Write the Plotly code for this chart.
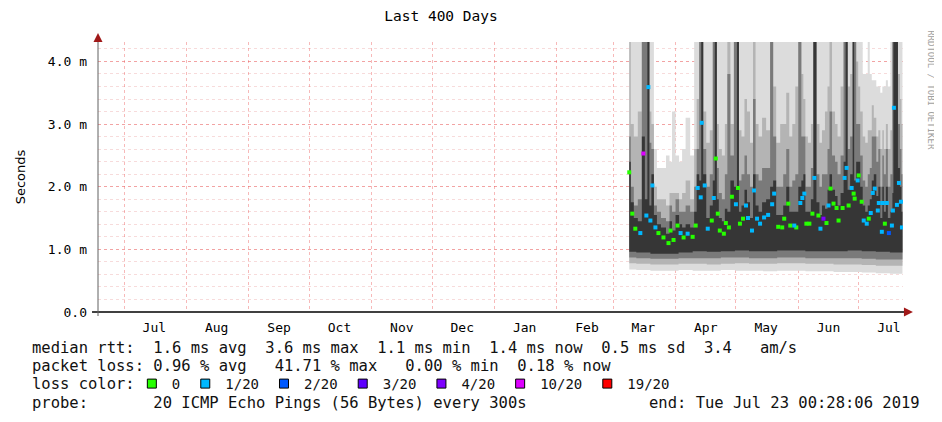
import plotly.graph_objects as go

# smokeping style graph, last 400 days
start = "2018-06-18 00:28:06"
end = "2019-07-23 00:28:06"

month_ticks = ["2018-07-16", "2018-08-16", "2018-09-16", "2018-10-16", "2018-11-16",
               "2018-12-16", "2019-01-16", "2019-02-16", "2019-03-16", "2019-04-16",
               "2019-05-16", "2019-06-16", "2019-07-16"]
month_labels = ["Jul", "Aug", "Sep", "Oct", "Nov", "Dec", "Jan", "Feb", "Mar", "Apr",
                "May", "Jun", "Jul"]

y_ticks = [0, 1, 2, 3, 4]
y_labels = ["0.0", "1.0 m", "2.0 m", "3.0 m", "4.0 m"]

sample_dates = [
    "2019-03-09 00:00", "2019-03-10 12:00", "2019-03-12 00:00", "2019-03-14 12:00", "2019-03-16 00:00",
    "2019-03-17 12:00", "2019-03-18 12:00", "2019-03-19 12:00", "2019-03-20 12:00", "2019-03-22 00:00",
    "2019-03-23 12:00", "2019-03-26 00:00", "2019-03-28 12:00", "2019-03-29 12:00", "2019-03-31 00:00",
    "2019-04-02 00:00", "2019-04-03 12:00", "2019-04-05 00:00", "2019-04-07 00:00", "2019-04-09 12:00",
    "2019-04-11 00:00", "2019-04-12 00:00", "2019-04-13 12:00", "2019-04-14 00:00", "2019-04-15 12:00",
    "2019-04-17 00:00", "2019-04-19 00:00", "2019-04-20 00:00", "2019-04-21 00:00", "2019-04-22 00:00",
    "2019-04-23 00:00", "2019-04-25 00:00", "2019-04-26 00:00", "2019-04-27 12:00", "2019-04-29 00:00",
    "2019-05-01 00:00", "2019-05-02 00:00", "2019-05-03 00:00", "2019-05-04 12:00", "2019-05-06 00:00",
    "2019-05-07 00:00", "2019-05-09 00:00", "2019-05-10 00:00", "2019-05-11 12:00", "2019-05-13 00:00",
    "2019-05-15 00:00", "2019-05-17 00:00", "2019-05-19 00:00", "2019-05-20 00:00", "2019-05-22 00:00",
    "2019-05-24 00:00", "2019-05-25 00:00", "2019-05-27 00:00", "2019-05-28 00:00", "2019-05-30 00:00",
    "2019-05-31 00:00", "2019-06-02 00:00", "2019-06-03 00:00", "2019-06-04 00:00", "2019-06-05 00:00",
    "2019-06-06 12:00", "2019-06-08 00:00", "2019-06-09 00:00", "2019-06-11 00:00", "2019-06-12 00:00",
    "2019-06-13 12:00", "2019-06-15 00:00", "2019-06-16 00:00", "2019-06-17 00:00", "2019-06-18 12:00",
    "2019-06-20 00:00", "2019-06-21 00:00", "2019-06-23 00:00", "2019-06-24 00:00", "2019-06-25 00:00",
    "2019-06-26 00:00", "2019-06-27 12:00", "2019-06-28 12:00", "2019-06-29 00:00", "2019-06-30 12:00",
    "2019-07-01 00:00", "2019-07-02 12:00", "2019-07-03 12:00", "2019-07-05 00:00", "2019-07-06 00:00",
    "2019-07-07 00:00", "2019-07-08 00:00", "2019-07-09 00:00", "2019-07-10 12:00", "2019-07-11 00:00",
    "2019-07-12 12:00", "2019-07-13 00:00", "2019-07-14 00:00", "2019-07-15 00:00", "2019-07-16 00:00",
    "2019-07-17 12:00", "2019-07-18 00:00", "2019-07-18 12:00", "2019-07-20 00:00", "2019-07-21 00:00",
    "2019-07-22 00:00", "2019-07-22 12:00",
]

# median rtt (ms)
median_rtt = [
    2.23, 1.57, 1.33, 1.26, 2.53, 1.54, 3.59, 1.46, 2.02, 1.35,
    1.26, 1.19, 1.10, 1.30, 1.15, 1.38, 1.26, 1.19, 1.25, 1.20,
    1.38, 1.98, 1.83, 3.02, 2.02, 1.33, 1.46, 1.82, 2.45, 1.57,
    1.30, 1.25, 1.42, 1.35, 1.84, 1.72, 1.98, 1.41, 1.49, 1.70,
    1.50, 1.30, 1.94, 1.49, 1.41, 1.51, 1.55, 1.72, 1.89, 1.36,
    1.35, 1.49, 1.73, 1.38, 1.38, 1.35, 1.74, 1.82, 1.89, 1.41,
    1.41, 1.57, 2.14, 1.54, 1.33, 1.49, 1.42, 1.70, 1.97, 1.73,
    1.66, 1.46, 1.66, 2.14, 2.30, 1.70, 1.98, 1.89, 1.81, 2.10,
    2.18, 1.76, 1.46, 1.41, 1.49, 1.58, 1.90, 1.97, 1.62, 1.74,
    1.28, 1.74, 1.41, 1.74, 1.26, 1.38, 1.62, 3.26, 1.71, 2.06,
    1.76, 1.35,
]

# lost pings out of 20
lost_pings = [
    0, 0, 0, 1, 10, 1, 1, 1, 1, 1,
    0, 0, 0, 0, 0, 0, 1, 0, 1, 0,
    0, 1, 1, 1, 1, 1, 0, 1, 0, 0,
    0, 0, 0, 0, 0, 1, 0, 0, 0, 1,
    1, 1, 1, 1, 1, 1, 1, 1, 1, 0,
    0, 0, 0, 0, 1, 0, 1, 1, 1, 0,
    0, 0, 1, 0, 1, 4, 0, 1, 0, 0,
    0, 0, 0, 1, 1, 0, 1, 0, 0, 1,
    0, 0, 1, 1, 0, 1, 1, 1, 1, 1,
    1, 1, 0, 1, 2, 1, 1, 1, 1, 1,
    1, 1,
]

# smoke: upper edges of the grey bands (ms), 4.4 = off the top
smoke_core_top = [
    2.4, 1.75, 1.5, 1.45, 2.8, 1.8, 4.4, 1.7, 2.2, 1.55,
    1.4, 1.35, 1.25, 1.45, 1.3, 1.55, 1.4, 1.35, 1.4, 1.35,
    1.6, 2.2, 2.1, 4.4, 2.2, 1.5, 1.7, 2.1, 4.4, 1.8,
    1.5, 1.45, 1.65, 1.6, 2.1, 2.0, 4.4, 1.6, 1.7, 1.95,
    1.75, 1.5, 2.2, 1.7, 1.6, 1.75, 1.8, 2.0, 2.1, 1.55,
    1.55, 1.7, 2.0, 1.6, 1.6, 1.6, 2.0, 2.1, 2.2, 1.6,
    1.6, 1.8, 4.4, 1.75, 1.55, 1.7, 1.65, 1.95, 2.2, 1.95,
    1.85, 1.7, 1.9, 2.4, 4.4, 1.95, 2.2, 4.4, 2.1, 2.4,
    2.4, 2.0, 1.7, 1.6, 1.7, 1.8, 2.1, 2.2, 1.85, 2.0,
    1.5, 2.0, 1.6, 2.0, 1.5, 1.6, 1.9, 4.4, 4.4, 2.3,
    2.0, 1.6,
]
smoke_dark_top = [
    2.8, 2.0, 1.7, 1.8, 4.4, 4.4, 4.4, 2.7, 2.6, 1.7,
    1.6, 1.5, 1.45, 1.7, 1.6, 1.8, 1.6, 1.6, 1.7, 1.6,
    2.0, 2.6, 4.4, 4.4, 2.6, 2.0, 2.2, 4.4, 4.4, 2.3,
    1.9, 1.8, 2.2, 3.8, 2.5, 4.4, 4.4, 2.1, 2.2, 2.5,
    2.2, 2.0, 3.4, 2.2, 2.1, 2.3, 2.3, 4.4, 2.8, 2.0,
    2.0, 2.2, 2.6, 2.0, 2.1, 2.2, 4.4, 2.8, 2.8, 2.0,
    2.0, 2.3, 4.4, 2.2, 2.0, 2.2, 2.2, 2.6, 3.2, 2.5,
    2.4, 2.2, 2.5, 4.4, 4.4, 2.6, 2.8, 4.4, 4.4, 3.0,
    3.0, 2.5, 2.1, 2.0, 2.2, 2.3, 2.8, 2.8, 2.4, 2.6,
    2.0, 2.5, 2.2, 2.6, 2.0, 2.2, 4.4, 4.4, 4.4, 3.0,
    2.6, 2.2,
]
smoke_mid_top = [
    4.4, 3.0, 2.8, 3.2, 4.4, 4.4, 4.4, 3.2, 3.0, 2.0,
    1.8, 1.8, 1.7, 1.9, 1.9, 1.9, 1.8, 1.9, 2.1, 1.8,
    2.6, 3.4, 4.4, 4.4, 3.2, 2.7, 2.9, 4.4, 4.4, 3.0,
    2.6, 2.5, 3.0, 4.4, 3.0, 4.4, 4.4, 2.9, 2.8, 3.4,
    3.2, 2.7, 4.4, 3.0, 2.8, 3.1, 2.9, 4.4, 3.6, 2.7,
    3.0, 3.0, 3.5, 2.8, 3.0, 3.6, 4.4, 3.8, 3.4, 2.8,
    2.7, 3.0, 4.4, 3.0, 2.7, 2.9, 3.2, 3.6, 4.4, 3.2,
    3.0, 2.8, 3.6, 4.4, 4.4, 3.6, 3.8, 4.4, 4.4, 4.0,
    3.6, 3.2, 2.8, 2.7, 2.9, 2.9, 3.3, 3.1, 2.8, 2.9,
    2.6, 2.9, 2.6, 3.0, 2.6, 2.9, 4.4, 4.4, 4.4, 3.8,
    3.4, 3.0,
]
smoke_max = [
    4.4, 4.4, 4.4, 4.4, 4.4, 4.4, 4.4, 4.4, 4.4, 2.6,
    2.3, 2.3, 2.5, 2.4, 3.2, 2.5, 2.4, 2.6, 3.1, 2.5,
    4.4, 4.4, 4.4, 4.4, 4.4, 4.4, 4.4, 4.4, 4.4, 4.4,
    4.4, 4.4, 4.4, 4.4, 4.4, 4.4, 4.4, 4.4, 4.4, 4.4,
    4.4, 4.4, 4.4, 4.4, 4.4, 4.4, 4.4, 4.4, 4.4, 4.4,
    4.4, 4.4, 4.4, 4.4, 4.4, 4.4, 4.4, 4.4, 4.4, 4.4,
    4.4, 4.4, 4.4, 4.4, 4.4, 4.4, 4.4, 4.4, 4.4, 4.4,
    4.4, 4.4, 4.4, 4.4, 4.4, 4.4, 4.4, 4.4, 4.4, 4.4,
    4.4, 4.4, 3.8, 3.8, 4.4, 3.8, 3.7, 3.7, 3.6, 3.6,
    3.5, 3.6, 3.6, 3.7, 3.6, 4.4, 4.4, 4.4, 4.4, 4.4,
    4.4, 4.4,
]

# smoke: lower edges, read weekly
bottom_dates = ["2019-03-09", "2019-03-16", "2019-03-23", "2019-03-30", "2019-04-06",
                "2019-04-13", "2019-04-20", "2019-04-27", "2019-05-04", "2019-05-11",
                "2019-05-18", "2019-05-25", "2019-06-01", "2019-06-08", "2019-06-15",
                "2019-06-22", "2019-06-29", "2019-07-06", "2019-07-13", "2019-07-20",
                "2019-07-23"]
smoke_min = [0.68, 0.67, 0.66, 0.66, 0.67, 0.66, 0.66, 0.67, 0.66, 0.66,
             0.65, 0.66, 0.66, 0.65, 0.65, 0.64, 0.64, 0.63, 0.62, 0.61, 0.61]
smoke_mid_bottom = [0.78, 0.77, 0.76, 0.76, 0.77, 0.77, 0.76, 0.77, 0.78, 0.77,
                    0.77, 0.78, 0.78, 0.77, 0.77, 0.76, 0.76, 0.75, 0.74, 0.74, 0.74]
smoke_dark_bottom = [0.87, 0.86, 0.85, 0.85, 0.86, 0.86, 0.86, 0.87, 0.87, 0.86,
                     0.86, 0.87, 0.87, 0.86, 0.86, 0.86, 0.86, 0.85, 0.84, 0.84, 0.84]
smoke_core_bottom = [0.96, 0.95, 0.93, 0.93, 0.95, 0.97, 0.96, 0.97, 0.98, 0.97,
                     0.97, 0.98, 0.98, 0.97, 0.97, 0.97, 0.98, 0.97, 0.96, 0.95, 0.95]

loss_levels = [0, 1, 2, 3, 4, 10, 19]
loss_names = ["0", "1/20", "2/20", "3/20", "4/20", "10/20", "19/20"]
loss_colors = ["#26ff00", "#00b8ff", "#0059ff", "#5e00ff", "#7e00ff", "#dd00ff", "#ff0000"]

# the page body adds an 8px margin, so the figure is 8px smaller than the window
PAD = 8
W, H = 942 - PAD, 422 - PAD
L, R, T, B = 94, 903, 42, 312   # plot area in window pixels
MONO = "DejaVu Sans Mono"


def px(x):
    return (x - L) / (R - L)


def py(y):
    return (B - y) / (B - T)


fig = go.Figure()

# smoke bands, outer to inner
bands = [
    (smoke_max, smoke_min, "#dcdcdc"),
    (smoke_mid_top, smoke_mid_bottom, "#b4b4b4"),
    (smoke_dark_top, smoke_dark_bottom, "#7a7a7a"),
    (smoke_core_top, smoke_core_bottom, "#363636"),
]
for top, bottom, col in bands:
    fig.add_trace(go.Scatter(
        x=sample_dates + bottom_dates[::-1],
        y=top + bottom[::-1],
        fill="toself", fillcolor=col,
        line=dict(width=0, shape="hvh"),
        mode="lines", hoverinfo="skip", showlegend=False,
    ))

# median rtt, coloured by loss
for lvl, name, col in zip(loss_levels, loss_names, loss_colors):
    xs = [d for d, l in zip(sample_dates, lost_pings) if l == lvl]
    ys = [v for v, l in zip(median_rtt, lost_pings) if l == lvl]
    fig.add_trace(go.Scatter(
        x=xs, y=ys, mode="markers", name=name,
        marker=dict(symbol="square", size=4, color=col, line=dict(width=0)),
        showlegend=False,
    ))
    # legend swatch
    fig.add_trace(go.Scatter(
        x=[None], y=[None], mode="markers", name=name,
        marker=dict(symbol="square", size=9, color=col, line=dict(width=1, color="#000000")),
    ))

major_grid = "rgba(235,70,70,0.38)"
minor_grid = "rgba(225,110,110,0.25)"

fig.update_xaxes(
    type="date", range=[start, end],
    tickvals=month_ticks, ticktext=month_labels, ticks="",
    tickfont=dict(family=MONO, size=13, color="#000000"),
    ticklabelstandoff=6,
    showgrid=False, zeroline=False, showline=False,
    minor=dict(dtick="M1", tick0="2018-07-01", showgrid=True,
               gridcolor=major_grid, griddash="dot", gridwidth=1, ticks=""),
)
fig.update_yaxes(
    range=[0, 4.31],
    tickvals=y_ticks, ticktext=y_labels, ticks="",
    tickfont=dict(family=MONO, size=13, color="#000000"),
    ticklabelstandoff=10,
    showgrid=True, gridcolor=major_grid, griddash="dot", gridwidth=1,
    zeroline=False, showline=False,
    minor=dict(dtick=0.2, showgrid=True, gridcolor=minor_grid, griddash="dot", gridwidth=1),
    title=dict(text="Seconds", font=dict(family="DejaVu Sans", size=13, color="#000000"),
               standoff=19),
)

# axis lines and arrows
fig.add_shape(type="line", xref="paper", yref="paper", x0=px(88), x1=px(907), y0=0, y1=0,
              line=dict(color="#404040", width=2))
fig.add_shape(type="line", xref="paper", yref="paper", x0=0, x1=0, y0=py(316), y1=py(38),
              line=dict(color="#606060", width=1))
fig.add_annotation(xref="paper", yref="paper", x=px(913), y=0, ax=-8, ay=0, text="",
                   showarrow=True, arrowhead=2, arrowsize=1.2, arrowwidth=1.5, arrowcolor="#a01818")
fig.add_annotation(xref="paper", yref="paper", x=0, y=py(33), ax=0, ay=8, text="",
                   showarrow=True, arrowhead=2, arrowsize=1.2, arrowwidth=1.5, arrowcolor="#a01818")

# summary text under the graph
info_lines = [
    (348, "median rtt:  1.6 ms avg  3.6 ms max  1.1 ms min  1.4 ms now  0.5 ms sd  3.4   am/s"),
    (366, "packet loss: 0.96 % avg   41.71 % max   0.00 % min  0.18 % now"),
    (384, "loss color:"),
    (403, "probe:       20 ICMP Echo Pings (56 Bytes) every 300s"),
]
for ypos, txt in info_lines:
    fig.add_annotation(xref="paper", yref="paper", x=px(26), y=py(ypos), text=txt.replace(" ", "&nbsp;"),
                       showarrow=False, xanchor="left", yanchor="middle",
                       font=dict(family=MONO, size=15.5, color="#111111"))
fig.add_annotation(xref="paper", yref="paper", x=px(922), y=py(403),
                   text="end: Tue Jul 23 00:28:06 2019", showarrow=False,
                   xanchor="right", yanchor="middle",
                   font=dict(family=MONO, size=15.5, color="#111111"))
fig.add_annotation(xref="paper", yref="paper", x=px(931), y=py(90),
                   text="RRDTOOL / TOBI OETIKER", textangle=90, showarrow=False,
                   xanchor="center", yanchor="middle",
                   font=dict(family=MONO, size=9, color="#a0a0a0"))

fig.update_layout(
    width=W, height=H,
    margin=dict(l=L - PAD, r=942 - R, t=T - PAD, b=422 - B),
    paper_bgcolor="#ffffff", plot_bgcolor="#ffffff",
    title=dict(text="Last 400 Days", x=(441 - PAD) / W, xanchor="center",
               y=1 - (16 - PAD) / H, yanchor="middle",
               font=dict(family=MONO, size=14.5, color="#000000")),
    legend=dict(orientation="h", x=px(128), xanchor="left", y=py(384), yanchor="middle",
                font=dict(family=MONO, size=14, color="#111111"), bgcolor="rgba(0,0,0,0)",
                itemwidth=30, tracegroupgap=0, itemclick=False, itemdoubleclick=False),
    showlegend=True,
)

fig.write_html("out.html")
